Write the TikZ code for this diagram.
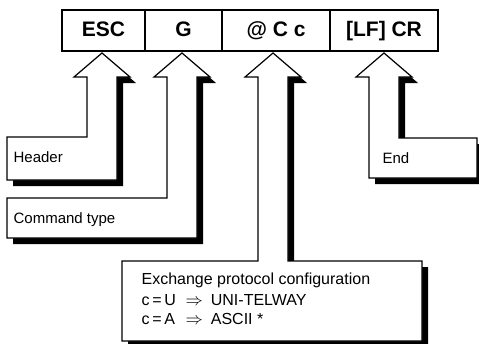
\documentclass[tikz,border=0pt]{standalone}
\usepackage{fontspec}
\setmainfont{Liberation Sans}
\usepackage{tikz}

\begin{document}
\begin{tikzpicture}[x=1pt,y=-1pt,line width=1.2pt,
		field/.style={draw,line width=1.6pt,minimum height=41pt,inner sep=0pt,
			text height=15pt,text depth=4pt,font=\fontsize{21}{21}\selectfont\bfseries},
		label/.style={anchor=base west,inner sep=0pt,font=\fontsize{15}{18}\selectfont},
		protocol/.style={label,font=\fontsize{16}{19}\selectfont}]
			\useasboundingbox (0,0) rectangle (479,343);
			% frame fields
			\node[field,minimum width=83pt] (esc) at (103.5,30.5) {ESC};
			\node[field,minimum width=77pt] (cmd) at (183.5,30.5) {G};
			\node[field,minimum width=108pt] (conf) at (276,30.5) {@ C c};
			\node[field,minimum width=108pt] (eol) at (384,30.5) {[LF] CR};
			% header
			\fill (108,59) -- (136,83) -- (123,83) -- (123,186) -- (13,186) -- (13,143) -- (93,143) -- (93,83) -- cycle;
			\filldraw[fill=white] (102,53) -- (130,77) -- (117,77) -- (117,180) -- (7,180) -- (7,137) -- (87,137) -- (87,77) -- (74,77) -- cycle;
			\node[label] (header) at (13,162) {Header};
			% command type
			\fill (188,59) -- (216,83) -- (203,83) -- (203,244) -- (13,244) -- (13,204) -- (173,204) -- (173,83) -- cycle;
			\filldraw[fill=white] (182,53) -- (210,77) -- (197,77) -- (197,238) -- (7,238) -- (7,198) -- (167,198) -- (167,77) -- (154,77) -- cycle;
			\node[label] (type) at (13,223) {Command type};
			% end
			\fill (390,59) -- (418,83) -- (405,83) -- (405,144) -- (483,144) -- (483,184) -- (375,184) -- (375,83) -- cycle;
			\filldraw[fill=white] (384,53) -- (412,77) -- (399,77) -- (399,138) -- (477,138) -- (477,178) -- (369,178) -- (369,77) -- (356,77) -- cycle;
			\node[label] (end) at (382,163) {End};
			% exchange protocol
			\fill (279,59) -- (307,83) -- (294,83) -- (294,267) -- (428,267) -- (428,347) -- (128,347) -- (128,267) -- (264,267) -- (264,83) -- cycle;
			\filldraw[fill=white] (273,53) -- (301,77) -- (288,77) -- (288,261) -- (422,261) -- (422,341) -- (122,341) -- (122,261) -- (258,261) -- (258,77) -- (245,77) -- cycle;
			\node[protocol] (exch) at (141,284.5) {Exchange protocol configuration};
			\node[protocol] (uni) at (141,305) {\makebox[44pt][l]{c\,=\,U}$\Rightarrow$\hspace{8pt}UNI-TELWAY};
			\node[protocol] (ascii) at (141,324) {\makebox[44pt][l]{c\,=\,A}$\Rightarrow$\hspace{8pt}ASCII *};
		\end{tikzpicture}
\end{document}
